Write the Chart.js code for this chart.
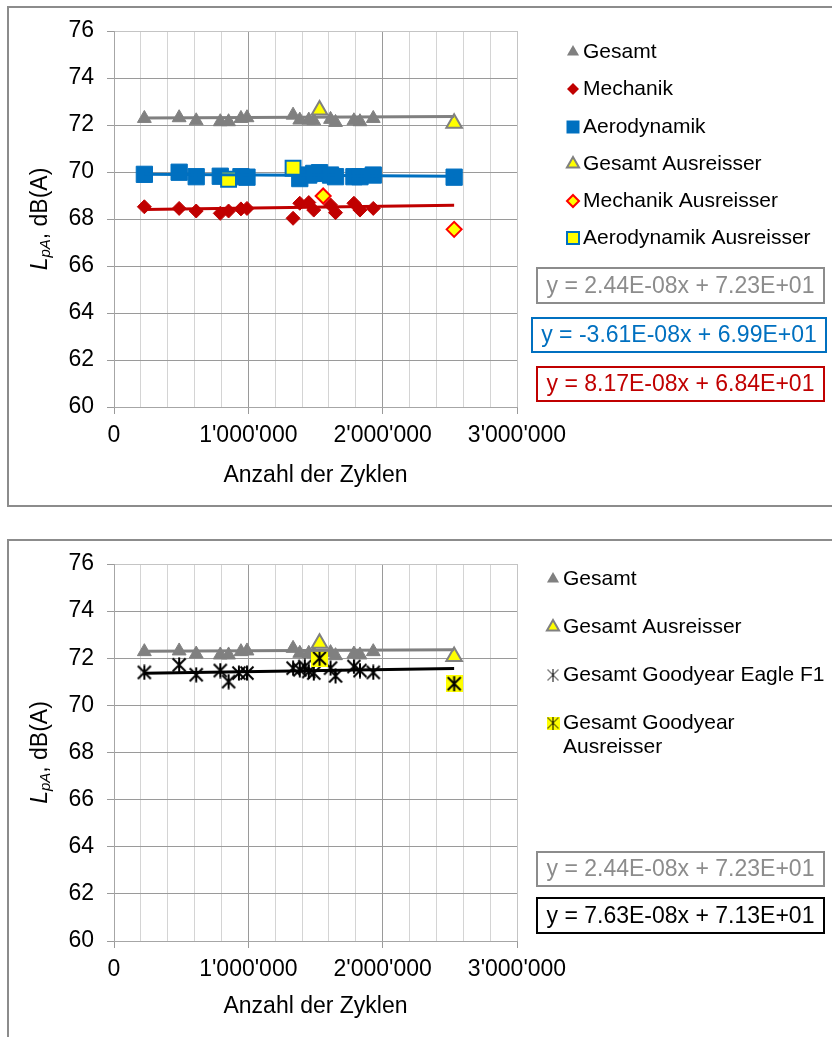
<!DOCTYPE html>
<html>
<head>
<meta charset="utf-8">
<script src="https://cdn.jsdelivr.net/npm/chart.js@4.4.1/dist/chart.umd.min.js"></script>
<style>
  html, body { margin: 0; padding: 0; background: #fff; overflow: hidden; width: 832px; height: 1037px; position: relative; }
  .frame { position: absolute; left: 7px; width: 900px; border: 2px solid #8c8c8c; }
  canvas { position: absolute; left: 0; }
</style>
</head>
<body>
<div class="frame" style="top:6px;height:497px"></div>
<div class="frame" style="top:539px;height:600px"></div>
<canvas id="topChart" width="832" height="520" style="top:0"></canvas>
<canvas id="bottomChart" width="832" height="517" style="top:520px"></canvas>
<script>
// values (x = cycles, y = dB(A))
const gesamtX = [226000, 485000, 612000, 791000, 853000, 945000, 990000, 1333000, 1383000, 1450000, 1487000, 1612000, 1649000, 1786000, 1831000, 1930000];
const gesamtY = [72.28, 72.31, 72.18, 72.14, 72.14, 72.28, 72.31, 72.42, 72.21, 72.21, 72.18, 72.24, 72.11, 72.18, 72.14, 72.28];
const gesamtOutX = [1530000, 2532000];
const gesamtOutY = [72.64, 72.07];

const mechX = [226000, 485000, 612000, 791000, 853000, 945000, 990000, 1333000, 1383000, 1450000, 1487000, 1612000, 1649000, 1786000, 1831000, 1930000];
const mechY = [68.52, 68.45, 68.34, 68.24, 68.34, 68.43, 68.45, 68.03, 68.67, 68.70, 68.38, 68.60, 68.27, 68.67, 68.38, 68.45];
const mechOutX = [1557000, 2532000];
const mechOutY = [68.98, 67.56];

const aeroX = [226000, 485000, 612000, 791000, 945000, 990000, 1383000, 1450000, 1487000, 1530000, 1612000, 1649000, 1786000, 1831000, 1930000, 2532000];
const aeroY = [69.90, 69.99, 69.80, 69.82, 69.80, 69.78, 69.72, 69.87, 69.94, 69.97, 69.87, 69.80, 69.80, 69.80, 69.87, 69.78];
const aeroOutX = [853000, 1333000];
const aeroOutY = [69.69, 70.16];

const goodX = [226000, 485000, 612000, 791000, 853000, 930000, 990000, 1333000, 1383000, 1420000, 1450000, 1487000, 1612000, 1649000, 1786000, 1831000, 1930000];
const goodY = [71.40, 71.72, 71.30, 71.48, 71.01, 71.37, 71.37, 71.58, 71.51, 71.65, 71.44, 71.37, 71.58, 71.25, 71.65, 71.48, 71.40];
const goodOutX = [1530000, 2532000];
const goodOutY = [72.00, 70.92];

// trend line ends
const trendX = [226000, 2532000];
const trendGesamtY = [72.30, 72.36];
const trendMechY = [68.40, 68.58];
const trendAeroY = [69.90, 69.82];
const trendGoodY = [71.36, 71.56];

const legendTop = ["Gesamt", "Mechanik", "Aerodynamik", "Gesamt Ausreisser", "Mechanik Ausreisser", "Aerodynamik Ausreisser"];
const legendBottom = ["Gesamt", "Gesamt Ausreisser", "Gesamt Goodyear Eagle F1", ["Gesamt Goodyear", "Ausreisser"]];
const eqTop = ["y = 2.44E-08x + 7.23E+01", "y = -3.61E-08x + 6.99E+01", "y = 8.17E-08x + 6.84E+01"];
const eqBottom = ["y = 2.44E-08x + 7.23E+01", "y = 7.63E-08x + 7.13E+01"];

const FONT = "'Liberation Sans', Arial, sans-serif";
const GRAY = "#808080", RED = "#C00000", BLUE = "#0070C0", YEL = "#FFFF00";

const pts = (xs, ys) => xs.map((x, i) => ({ x: x, y: ys[i] }));
const fmt = v => String(Math.round(v)).replace(/\B(?=(\d{3})+(?!\d))/g, "'");

function starImage(size, lw, bg, pad) {
  const c = document.createElement("canvas");
  c.width = c.height = size;
  const g = c.getContext("2d");
  if (bg) { g.fillStyle = bg; g.fillRect(0, 0, size, size); }
  g.strokeStyle = "#000";
  g.lineWidth = lw;
  g.beginPath();
  g.moveTo(size / 2, pad); g.lineTo(size / 2, size - pad);
  g.moveTo(pad + 1, pad + 1); g.lineTo(size - pad - 1, size - pad - 1);
  g.moveTo(size - pad - 1, pad + 1); g.lineTo(pad + 1, size - pad - 1);
  g.stroke();
  return c;
}
const starPt = starImage(16, 2, null, 0.5);
const starOutPt = starImage(17, 2, YEL, 1);
const starLeg = starImage(13, 1, null, 0);
const starOutLeg = starImage(13, 1, YEL, 0);

function drawMarker(ctx, m, x, y) {
  ctx.save();
  if (m.img) { ctx.drawImage(m.img, x - m.img.width / 2, y - m.img.height / 2); ctx.restore(); return; }
  ctx.fillStyle = m.fill;
  ctx.strokeStyle = m.stroke;
  ctx.lineWidth = m.lw;
  ctx.beginPath();
  const r = m.r;
  if (m.shape === "tri") {
    ctx.moveTo(x, y - r); ctx.lineTo(x + r * 0.866, y + r / 2); ctx.lineTo(x - r * 0.866, y + r / 2); ctx.closePath();
  } else if (m.shape === "dia") {
    ctx.moveTo(x, y - r); ctx.lineTo(x + r, y); ctx.lineTo(x, y + r); ctx.lineTo(x - r, y); ctx.closePath();
  } else {
    ctx.rect(x - r, y - r, 2 * r, 2 * r);
  }
  ctx.fill();
  if (m.lw) ctx.stroke();
  ctx.restore();
}

function overlay(cfg) {
  return {
    id: "overlay",
    afterDraw(chart) {
      const ctx = chart.ctx, a = chart.chartArea;
      // y axis title: L_pA, dB(A)
      ctx.save();
      ctx.translate(41, (a.top + a.bottom) / 2);
      ctx.rotate(-Math.PI / 2);
      ctx.fillStyle = "#000";
      ctx.textBaseline = "middle";
      ctx.textAlign = "left";
      const f1 = "italic 23px " + FONT, f2 = "italic 15px " + FONT, f3 = "23px " + FONT;
      ctx.font = f1; const w1 = ctx.measureText("L").width;
      ctx.font = f2; const w2 = ctx.measureText("pA").width;
      ctx.font = f3; const w3 = ctx.measureText(", dB(A)").width;
      let x0 = -(w1 + w2 + w3) / 2;
      ctx.font = f1; ctx.fillText("L", x0, 0); x0 += w1;
      ctx.font = f2; ctx.fillText("pA", x0, 5); x0 += w2;
      ctx.font = f3; ctx.fillText(", dB(A)", x0, 0);
      ctx.restore();

      ctx.save();
      ctx.fillStyle = "#000";
      ctx.textBaseline = "middle";
      ctx.textAlign = "center";
      ctx.font = "23px " + FONT;
      ctx.fillText("Anzahl der Zyklen", (a.left + a.right) / 2, cfg.xTitleY);

      // legend
      ctx.textAlign = "left";
      ctx.font = "21px " + FONT;
      cfg.legend.forEach((it, i) => {
        const y = cfg.legendY[i];
        drawMarker(ctx, cfg.markers[i], cfg.markerX, y);
        ctx.fillStyle = "#000";
        const lines = Array.isArray(it) ? it : [it];
        lines.forEach((t, k) => ctx.fillText(t, cfg.textX, y + k * 24));
      });

      // trend line equations
      ctx.font = "23px " + FONT;
      ctx.textAlign = "center";
      cfg.eqs.forEach((t, i) => {
        const b = cfg.eqBoxes[i];
        ctx.strokeStyle = cfg.eqColors[i];
        ctx.lineWidth = 2;
        ctx.strokeRect(b[0], b[1], b[2], b[3]);
        ctx.fillStyle = cfg.eqColors[i];
        ctx.fillText(t, b[0] + b[2] / 2, b[1] + b[3] / 2 + 1);
      });
      ctx.restore();
    }
  };
}

function buildOptions(padTop, xHeight) {
  return {
    responsive: false,
    animation: false,
    devicePixelRatio: 1,
    layout: { padding: { top: padTop, right: 315, left: 0, bottom: 0 } },
    plugins: { legend: { display: false }, tooltip: { enabled: false } },
    scales: {
      x: {
        type: "linear", min: 0, max: 3000000,
        afterFit: s => { s.height = xHeight; },
        ticks: {
          stepSize: 200000, autoSkip: false, maxRotation: 0, padding: 8, color: "#000",
          font: { family: FONT, size: 23 },
          callback: v => Math.abs(v % 1000000) < 1 ? fmt(v) : ""
        },
        grid: {
          tickLength: 7,
          color: c => {
            const v = c.tick.value;
            if (v === 3000000) return "#c4c4c4";
            return Math.abs(v % 1000000) < 1 ? "#9a9a9a" : "#d4d4d4";
          },
          tickColor: c => Math.abs(c.tick.value % 1000000) < 1 ? "#9a9a9a" : "rgba(0,0,0,0)"
        },
        border: { color: "#a6a6a6" }
      },
      y: {
        min: 60, max: 76,
        afterFit: s => { s.width = 114; },
        ticks: {
          stepSize: 1, padding: 13, color: "#000",
          font: { family: FONT, size: 23 },
          callback: v => v % 2 === 0 ? String(v) : ""
        },
        grid: {
          tickLength: 7,
          color: c => {
            const v = c.tick.value;
            if (v === 76) return "#c4c4c4";
            return v % 2 === 0 ? "#9a9a9a" : "#d4d4d4";
          },
          tickColor: c => c.tick.value % 2 === 0 ? "#9a9a9a" : "rgba(0,0,0,0)"
        },
        border: { color: "#a6a6a6" }
      }
    }
  };
}

const trend = (ys, color) => ({
  data: pts(trendX, ys), showLine: true, pointRadius: 0, borderColor: color, borderWidth: 3, order: 0
});

// top chart
new Chart(document.getElementById("topChart"), {
  type: "scatter",
  data: {
    datasets: [
      trend(trendGesamtY, GRAY),
      trend(trendAeroY, BLUE),
      trend(trendMechY, RED),
      { data: pts(gesamtOutX, gesamtOutY), pointStyle: "triangle", pointRadius: 9, backgroundColor: YEL, borderColor: GRAY, borderWidth: 2, order: 1 },
      { data: pts(mechOutX, mechOutY), pointStyle: "rectRot", pointRadius: 7.5, backgroundColor: YEL, borderColor: "#FF0000", borderWidth: 2, order: 1 },
      { data: pts(aeroOutX, aeroOutY), pointStyle: "rect", pointRadius: 10.5, backgroundColor: YEL, borderColor: BLUE, borderWidth: 2, order: 1 },
      { data: pts(gesamtX, gesamtY), pointStyle: "triangle", pointRadius: 8, backgroundColor: GRAY, borderColor: GRAY, borderWidth: 1, order: 2 },
      { data: pts(mechX, mechY), pointStyle: "rectRot", pointRadius: 7, backgroundColor: RED, borderColor: RED, borderWidth: 1, order: 2 },
      { data: pts(aeroX, aeroY), pointStyle: "rect", pointRadius: 11.5, backgroundColor: BLUE, borderColor: BLUE, borderWidth: 1, order: 2 }
    ]
  },
  options: buildOptions(31, 113),
  plugins: [overlay({
    xTitleY: 476,
    legend: legendTop,
    legendY: [52, 89, 127, 164, 201, 238],
    markerX: 573, textX: 583,
    markers: [
      { shape: "tri", r: 7, fill: GRAY, stroke: GRAY, lw: 0 },
      { shape: "dia", r: 6, fill: RED, stroke: RED, lw: 0 },
      { shape: "sq", r: 6.5, fill: BLUE, stroke: BLUE, lw: 0 },
      { shape: "tri", r: 7, fill: YEL, stroke: GRAY, lw: 2 },
      { shape: "dia", r: 6, fill: YEL, stroke: "#FF0000", lw: 2 },
      { shape: "sq", r: 6, fill: YEL, stroke: BLUE, lw: 2 }
    ],
    eqs: eqTop,
    eqBoxes: [[537, 268, 287, 35], [532, 318, 294, 34], [537, 367, 287, 34]],
    eqColors: ["#8c8c8c", BLUE, RED]
  })]
});

// bottom chart
new Chart(document.getElementById("bottomChart"), {
  type: "scatter",
  data: {
    datasets: [
      trend(trendGesamtY, GRAY),
      trend(trendGoodY, "#000"),
      { data: pts(gesamtOutX, gesamtOutY), pointStyle: "triangle", pointRadius: 9, backgroundColor: YEL, borderColor: GRAY, borderWidth: 2, order: 1 },
      { data: pts(goodOutX, goodOutY), pointStyle: starOutPt, order: 1 },
      { data: pts(gesamtX, gesamtY), pointStyle: "triangle", pointRadius: 8, backgroundColor: GRAY, borderColor: GRAY, borderWidth: 1, order: 2 },
      { data: pts(goodX, goodY), pointStyle: starPt, order: 2 }
    ]
  },
  options: buildOptions(44, 96),
  plugins: [overlay({
    xTitleY: 487,
    legend: legendBottom,
    legendY: [59, 107, 155, 203],
    markerX: 553, textX: 563,
    markers: [
      { shape: "tri", r: 7, fill: GRAY, stroke: GRAY, lw: 0 },
      { shape: "tri", r: 7, fill: YEL, stroke: GRAY, lw: 2 },
      { img: starLeg },
      { img: starOutLeg }
    ],
    eqs: eqBottom,
    eqBoxes: [[537, 332, 287, 34], [537, 378, 287, 35]],
    eqColors: ["#8c8c8c", "#000"]
  })]
});
</script>
</body>
</html>
